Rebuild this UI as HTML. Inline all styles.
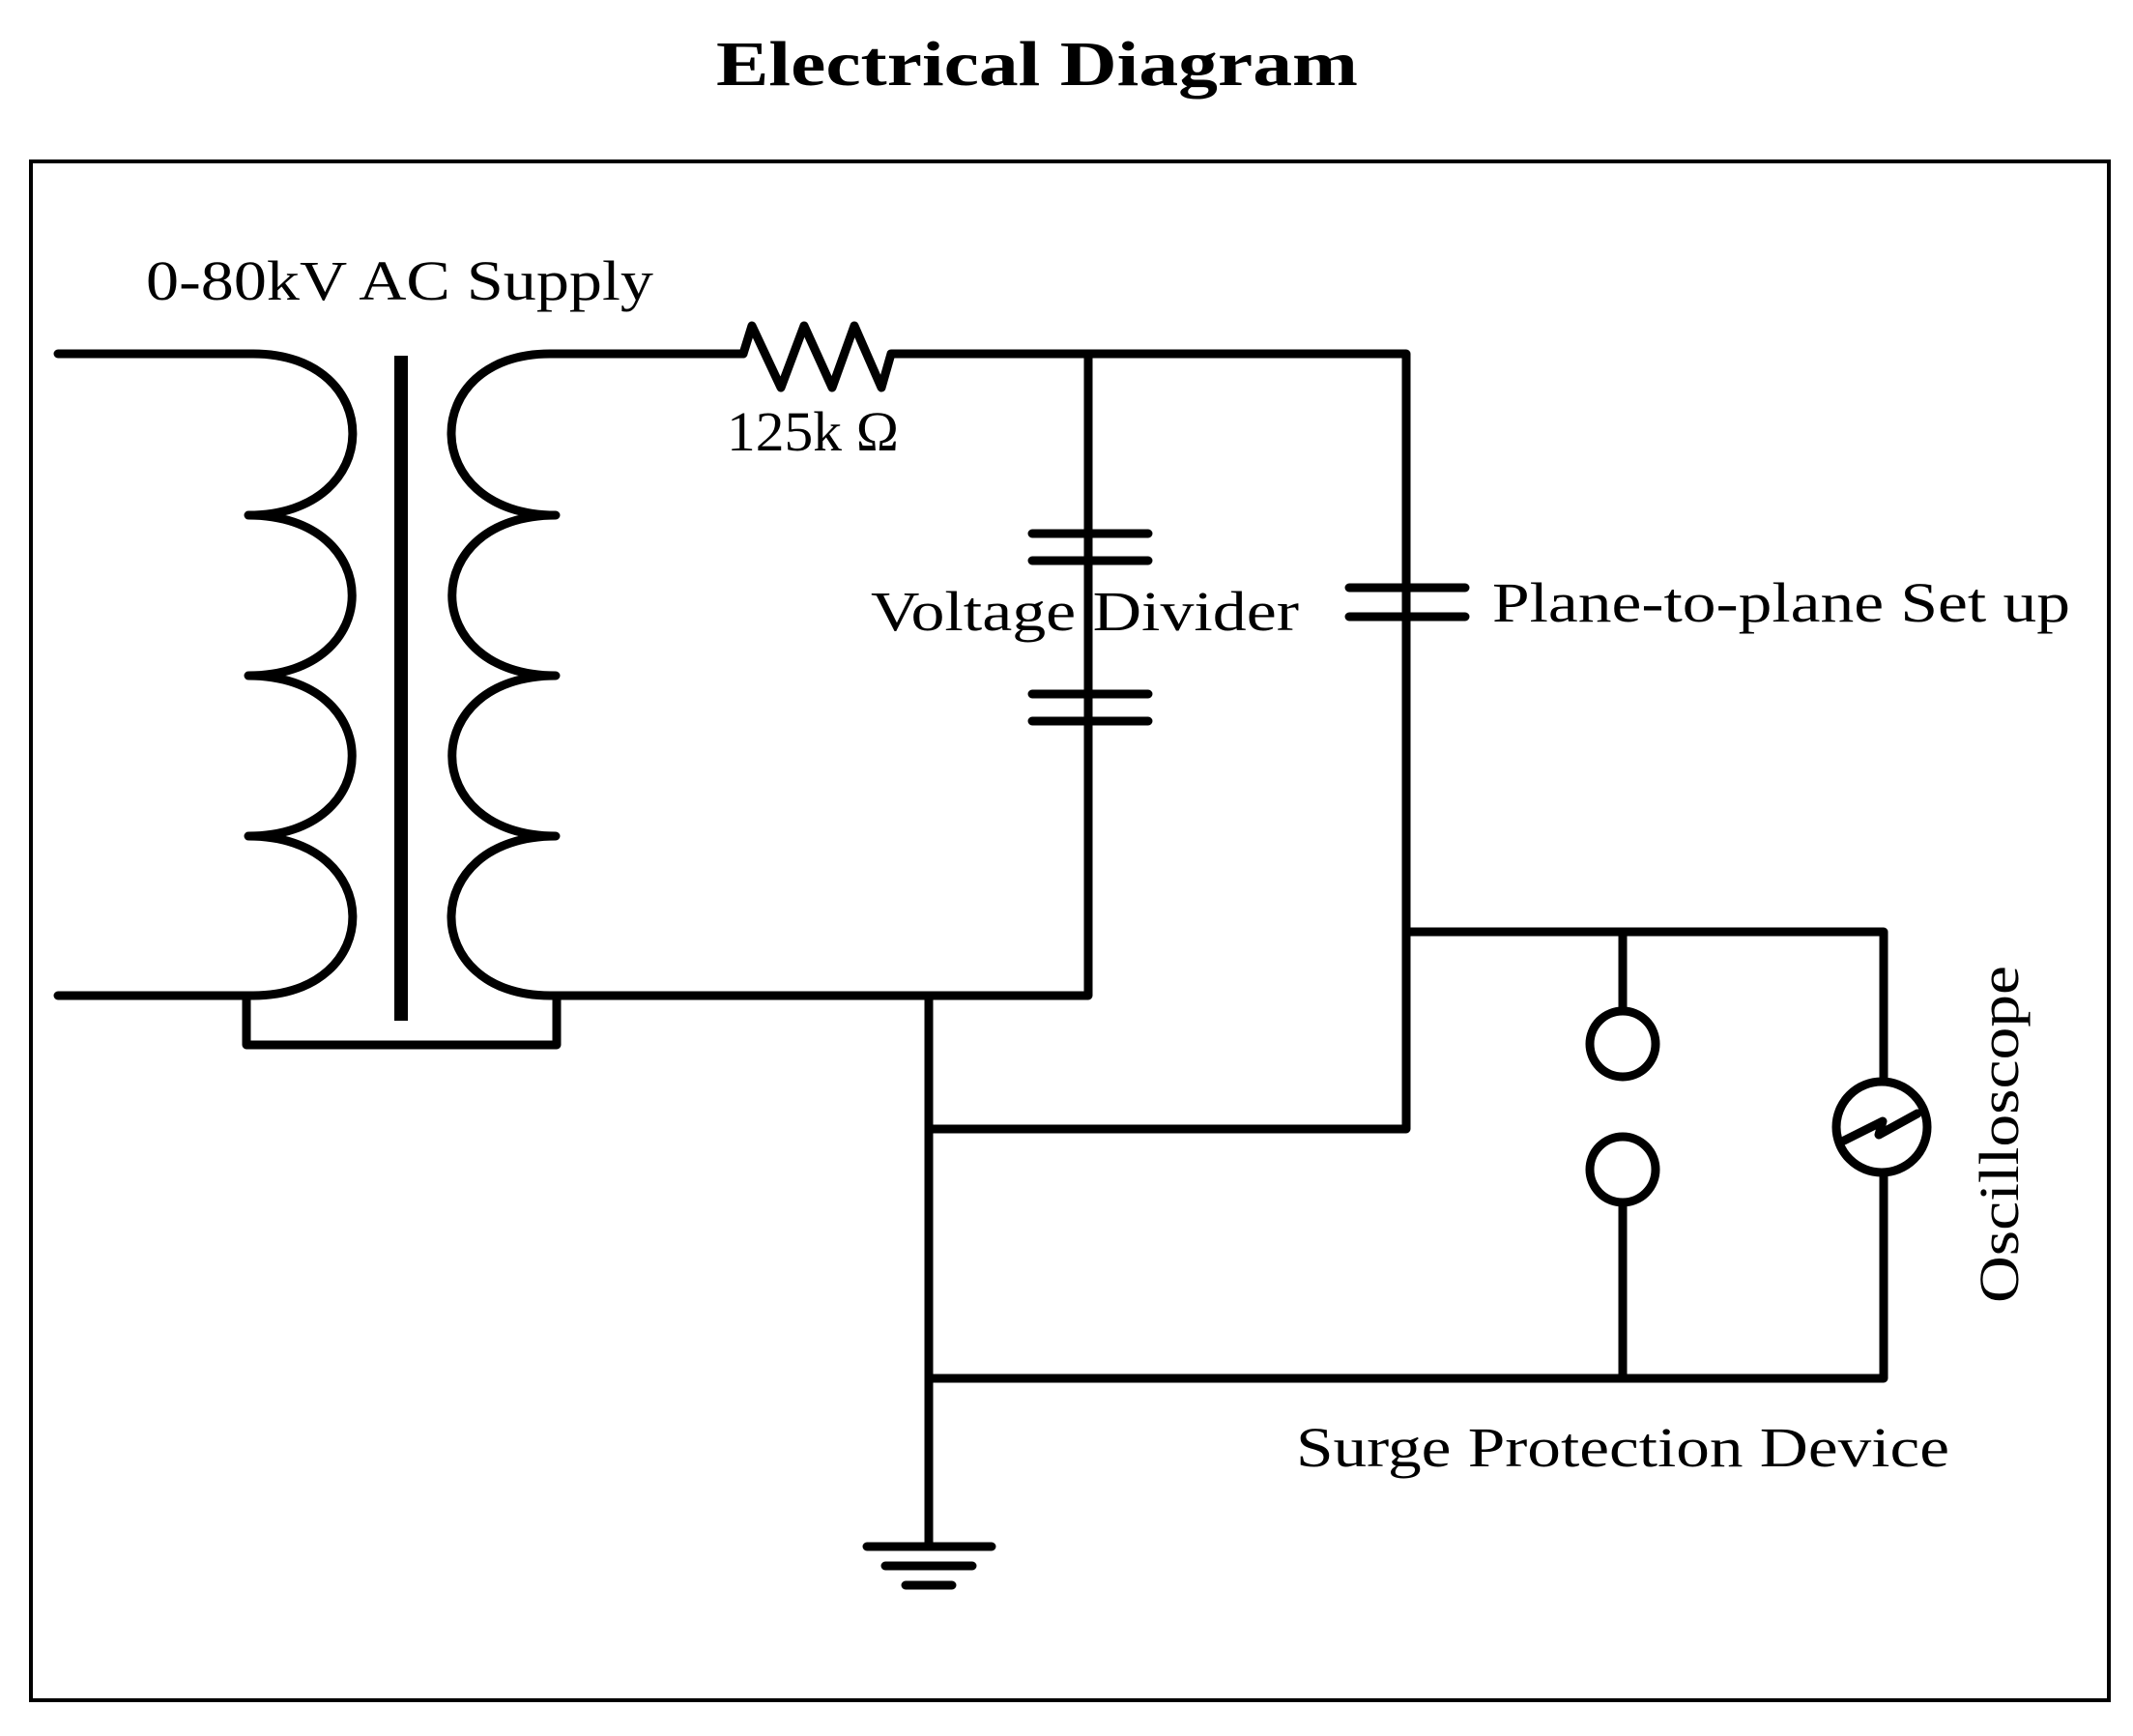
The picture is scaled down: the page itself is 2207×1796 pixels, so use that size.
<!DOCTYPE html>
<html><head><style>html,body{margin:0;padding:0;background:#fff}svg{display:block}</style></head><body>
<svg width="2207" height="1796" viewBox="0 0 2207 1796" xmlns="http://www.w3.org/2000/svg">
<rect x="0" y="0" width="2207" height="1796" fill="#fff"/>
<rect x="32" y="167" width="2150" height="1592" fill="none" stroke="#000" stroke-width="4"/>
<text x="741" y="88" font-family="Liberation Serif, serif" font-weight="bold" font-size="66" textLength="664" lengthAdjust="spacingAndGlyphs">Electrical Diagram</text>
<g fill="none" stroke="#000" stroke-width="9" stroke-linecap="round" stroke-linejoin="round">
<path d="M60,366 H262 C400,366 400,533 257,533 C400,533 400,699 257,699 C400,699 400,865 257,865 C400,865 400,1030 262,1030 H60"/>
<path d="M769,366 H569 C432,366 432,533 575,533 C432,533 432,699 575,699 C432,699 432,865 575,865 C432,865 432,1030 569,1030 H1126 V366"/>
<path d="M769,366 L778,337 L808,401 L832,337 L861,401 L884,337 L912,401 L922,366 H1455 V1168 H961"/>
<path d="M255,1030 V1081 H576 V1030"/>
<path d="M961,1030 V1597"/>
<path d="M1455,964 H1949 V1426 H961"/>
<path d="M1679,964 V1045 M1679,1245 V1426"/>
<circle cx="1679" cy="1080" r="34"/>
<circle cx="1679" cy="1210" r="34"/>
<circle cx="1947" cy="1166" r="47" fill="#fff"/>
<path d="M1908,1180 L1948,1160 L1944,1174 L1984,1152"/>
<path d="M897,1600 H1026 M916,1620 H1006 M937,1640 H985"/>
<path d="M1068,552 H1188 M1068,580 H1188 M1068,718 H1188 M1068,746 H1188"/>
<path d="M1396,608 H1516 M1396,638 H1516"/>
</g>
<rect x="408" y="368" width="14" height="688" fill="#000"/>
<g font-family="Liberation Serif, serif" font-size="58" fill="#000">
<text x="151" y="310" textLength="525" lengthAdjust="spacingAndGlyphs">0-80kV AC Supply</text>
<text x="752" y="466" textLength="178" lengthAdjust="spacingAndGlyphs">125k Ω</text>
<text x="901" y="652" textLength="443" lengthAdjust="spacingAndGlyphs">Voltage Divider</text>
<text x="1544" y="643" textLength="598" lengthAdjust="spacingAndGlyphs">Plane-to-plane Set up</text>
<text x="1341" y="1517" textLength="676" lengthAdjust="spacingAndGlyphs">Surge Protection Device</text>
<text transform="translate(2088,1348) rotate(-90)" x="0" y="0" textLength="349" lengthAdjust="spacingAndGlyphs">Oscilloscope</text>
</g>
</svg>
</body></html>
